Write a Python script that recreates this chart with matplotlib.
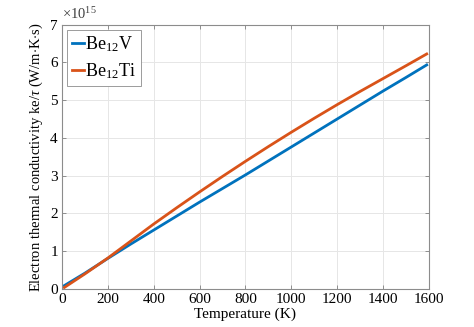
import matplotlib
matplotlib.use("Agg")
import matplotlib.pyplot as plt

plt.rcParams['font.family'] = ['Liberation Serif', 'DejaVu Serif']
plt.rcParams['mathtext.fontset'] = 'custom'
plt.rcParams['mathtext.rm'] = 'Liberation Serif'
plt.rcParams['mathtext.it'] = 'Liberation Serif:italic'

# temperature (K) and ke/tau in units of 1e15 W/(m K s)
temperature = [10, 100, 200, 300, 400, 500, 600, 700, 800, 900, 1000,
               1100, 1200, 1300, 1400, 1500, 1590]
be12v = [0.09, 0.42, 0.81, 1.19, 1.56, 1.93, 2.30, 2.66, 3.02, 3.39, 3.76,
         4.13, 4.50, 4.87, 5.24, 5.60, 5.93]
be12ti = [0.04, 0.40, 0.82, 1.27, 1.72, 2.15, 2.57, 2.98, 3.38, 3.77, 4.15,
          4.52, 4.88, 5.23, 5.57, 5.91, 6.22]
labels = ['Be$_{12}$V', 'Be$_{12}$Ti']
colors = ['#0072BD', '#D95319']

fig = plt.figure(figsize=(4.74, 3.27), dpi=100)
ax = fig.add_axes([62 / 474, 38 / 327, 367 / 474, 264.5 / 327])

ax.plot(temperature, be12v, color=colors[0], lw=2, label=labels[0])
ax.plot(temperature, be12ti, color=colors[1], lw=2, label=labels[1])

ax.set_xlim(0, 1600)
ax.set_ylim(0, 7)
ax.set_xticks(range(0, 1601, 200))
ax.set_yticks(range(0, 8))
ax.grid(True, color='#e6e6e6', lw=0.7)
ax.tick_params(direction='in', top=True, right=True, labelsize=11,
               length=3, width=0.6, color='#808080', pad=3)
for s in ax.spines.values():
    s.set_color('#8c8c8c')
    s.set_linewidth(0.8)

ax.set_xlabel('Temperature (K)', fontsize=11, labelpad=1)
ax.set_ylabel(r'Electron thermal conductivity ke/$\mathit{\tau}$ (W/m$\cdot$K$\cdot$s)',
              fontsize=10.5, labelpad=4)
ax.text(0, 1.01, r'$\times 10^{15}$', transform=ax.transAxes, fontsize=10.5,
        ha='left', va='bottom', color='#404040')

leg = ax.legend(loc='upper left', fontsize=13, handlelength=0.65,
                handletextpad=0.1, borderpad=0.25, labelspacing=0.4,
                borderaxespad=0.3, fancybox=False, framealpha=1)
leg.get_frame().set_edgecolor('#8c8c8c')
leg.get_frame().set_linewidth(0.6)

fig.savefig('out.png', dpi=100)
